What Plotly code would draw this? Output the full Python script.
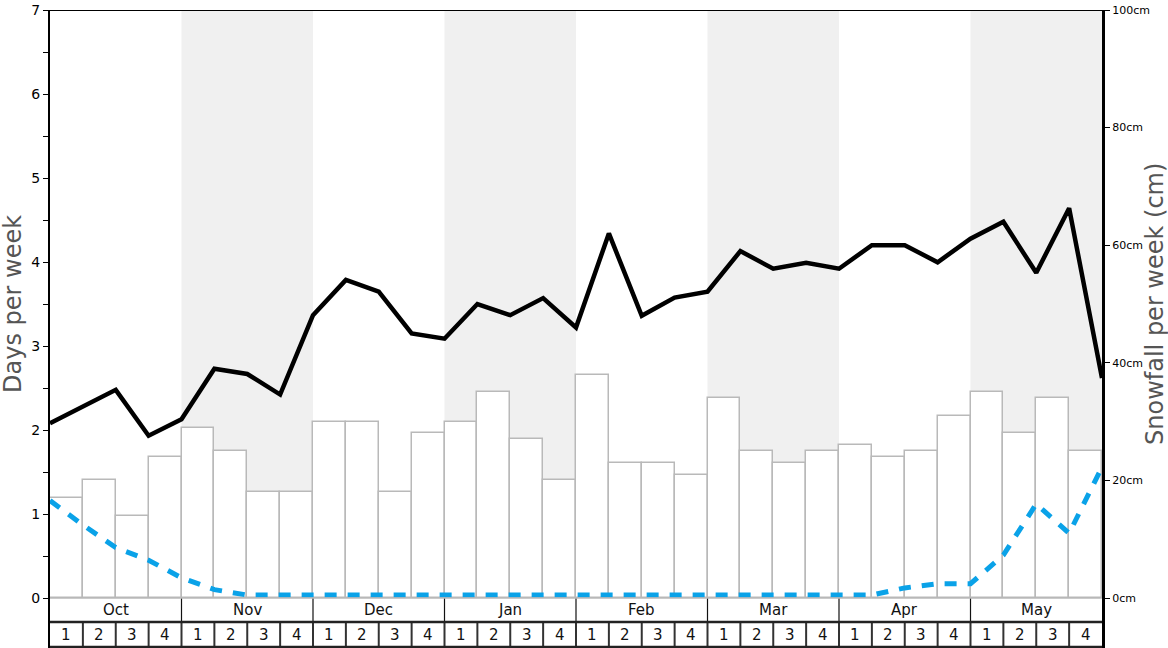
import plotly.graph_objects as go

months = ["Oct", "Nov", "Dec", "Jan", "Feb", "Mar", "Apr", "May"]
week_labels = ["1", "2", "3", "4"]

# Bars: days per week (one per week, 32 weeks)
bar_days = [1.19, 1.40, 0.98, 1.68, 2.02, 1.75, 1.26, 1.26,
            2.10, 2.10, 1.26, 1.96, 2.10, 2.45, 1.89, 1.40,
            2.66, 1.61, 1.61, 1.47, 2.38, 1.75, 1.61, 1.75,
            1.82, 1.68, 1.75, 2.17, 2.45, 1.96, 2.38, 1.75]

# Black line: snowfall per week (cm), at week boundaries (33 points)
snow_cm = [29.7, 32.6, 35.4, 27.6, 30.4, 39.0, 38.1, 34.6, 48.1, 54.1, 52.1,
           45.0, 44.1, 50.0, 48.1, 51.0, 46.0, 62.0, 48.0, 51.1, 52.1, 59.0,
           56.0, 57.0, 56.0, 60.0, 60.0, 57.1, 61.1, 64.0, 55.3, 66.3, 37.4]

# Blue dashed line: days per week, at week boundaries (33 points)
blue_days = [1.16, 0.87, 0.60, 0.45, 0.24, 0.10, 0.035, 0.035, 0.035, 0.035, 0.035,
             0.035, 0.035, 0.035, 0.035, 0.035, 0.035, 0.035, 0.035, 0.035, 0.035, 0.035,
             0.035, 0.035, 0.035, 0.035, 0.12, 0.17, 0.17, 0.51, 1.12, 0.77, 1.56]

n_weeks = len(bar_days)
PX_PER_DAY = 84.0
y_bottom = -50 / PX_PER_DAY        # bottom of the table below the axis
y_mid = -24 / PX_PER_DAY           # line between month row and week row
y2_bottom = y_bottom * 100 / 7

fig = go.Figure()

fig.add_trace(go.Bar(
    x=[i + 0.5 for i in range(n_weeks)], y=bar_days, width=1,
    marker=dict(color="white", line=dict(color="#b9b9b9", width=1.5)),
    showlegend=False, hoverinfo="skip"))

fig.add_trace(go.Scatter(
    x=list(range(len(blue_days))), y=blue_days, mode="lines",
    line=dict(color="#0aa2e8", width=5, dash="12px,11px"),
    showlegend=False, hoverinfo="skip"))

fig.add_trace(go.Scatter(
    x=list(range(len(snow_cm))), y=snow_cm, mode="lines", yaxis="y2",
    line=dict(color="black", width=4.5),
    showlegend=False, hoverinfo="skip"))

shapes = []
annotations = []
for m, name in enumerate(months):
    x0, x1 = m * 4, m * 4 + 4
    if m % 2 == 1:
        shapes.append(dict(type="rect", xref="x", yref="y", x0=x0, x1=x1, y0=0, y1=7,
                           fillcolor="#f0f0f0", line=dict(width=0), layer="below"))
    annotations.append(dict(x=(x0 + x1) / 2, y=y_mid / 2, xref="x", yref="y", text=name,
                            showarrow=False, font=dict(size=15, color="#111", family="DejaVu Sans")))
    if m > 0:
        shapes.append(dict(type="line", xref="x", yref="y", x0=x0, x1=x0, y0=0, y1=y_mid,
                           line=dict(color="#111", width=1.2)))
    for w in range(4):
        annotations.append(dict(x=x0 + w + 0.5, y=(y_mid + y_bottom) / 2, xref="x", yref="y",
                                text=week_labels[w], showarrow=False,
                                font=dict(size=15, color="#111", family="DejaVu Sans")))
for i in range(1, n_weeks):
    shapes.append(dict(type="line", xref="x", yref="y", x0=i, x1=i, y0=y_mid, y1=y_bottom,
                       line=dict(color="#333", width=2)))

# baseline and table lines
shapes.append(dict(type="line", xref="x", yref="y", x0=0, x1=n_weeks, y0=0, y1=0,
                   line=dict(color="#b9b9b9", width=1.5)))
shapes.append(dict(type="line", xref="x", yref="y", x0=0, x1=n_weeks, y0=y_mid, y1=y_mid,
                   line=dict(color="#222", width=2.5)))
shapes.append(dict(type="line", xref="x", yref="y", x0=0, x1=n_weeks, y0=y_bottom + 0.012,
                   y1=y_bottom + 0.012, line=dict(color="#222", width=2.5)))
shapes.append(dict(type="line", xref="x", yref="y", x0=0, x1=n_weeks, y0=7, y1=7,
                   line=dict(color="black", width=2)))

# axis titles
annotations.append(dict(xref="paper", yref="y", x=(13 - 50) / 1052, y=3.5, text="Days per week",
                        textangle=-90, showarrow=False, xanchor="center", yanchor="middle",
                        font=dict(size=24, color="#555", family="DejaVu Sans")))
annotations.append(dict(xref="paper", yref="y", x=(1155 - 50) / 1052, y=3.5,
                        text="Snowfall per week (cm)", textangle=-90, showarrow=False,
                        xanchor="center", yanchor="middle",
                        font=dict(size=24, color="#555", family="DejaVu Sans")))

left_ticks = [v / 2 for v in range(15)]
right_ticks = [0, 20, 40, 60, 80, 100]

fig.update_layout(
    width=1168, height=648,
    margin=dict(l=50, r=66, t=10, b=0, autoexpand=False),
    paper_bgcolor="white", plot_bgcolor="white",
    bargap=0,
    font=dict(family="DejaVu Sans", color="black"),
    xaxis=dict(range=[0, n_weeks], showgrid=False, zeroline=False, showticklabels=False,
               ticks="", showline=False),
    yaxis=dict(range=[y_bottom, 7], showgrid=False, zeroline=False, showline=True,
               linecolor="black", linewidth=2, ticks="outside", ticklen=5, tickwidth=1.2,
               tickcolor="black", tickvals=left_ticks,
               ticktext=[str(int(v)) if v == int(v) else "" for v in left_ticks],
               tickfont=dict(size=14, color="black")),
    yaxis2=dict(range=[y2_bottom, 100], overlaying="y", side="right", showgrid=False,
                zeroline=False, showline=True, linecolor="black", linewidth=3,
                ticks="outside", ticklen=5, tickwidth=1.2, tickcolor="black",
                tickvals=right_ticks, ticktext=[f"{v}cm" for v in right_ticks],
                tickfont=dict(size=11, color="black")),
    shapes=shapes,
    annotations=annotations,
)

fig.write_html("out.html", config={"displayModeBar": False},
               post_script="document.body.style.margin='0';document.body.style.overflow='hidden';")
